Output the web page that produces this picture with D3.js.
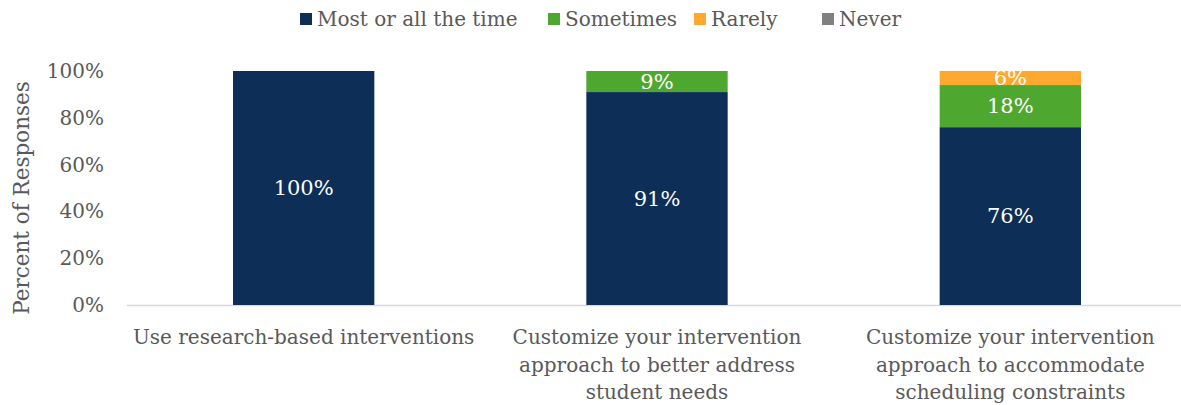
<!DOCTYPE html>
<html><head><meta charset="utf-8">
<script src="https://cdn.jsdelivr.net/npm/d3@7"></script>
<style>body{margin:0;background:#fff}svg{display:block}</style>
</head><body>
<svg id="c" width="1181" height="405"></svg>
<script>
const categories = [
  ["Use research-based interventions"],
  ["Customize your intervention", "approach to better address", "student needs"],
  ["Customize your intervention", "approach to accommodate", "scheduling constraints"]
];
const seriesNames = ["Most or all the time", "Sometimes", "Rarely", "Never"];
const seriesColors = ["#0d2e57", "#4ea72e", "#ffa82f", "#808080"];
const mostValues = [100, 91, 76];
const sometimesValues = [0, 9, 18];
const rarelyValues = [0, 0, 6];
const neverValues = [0, 0, 0];
const yTicks = [0, 20, 40, 60, 80, 100];

const font = "'DejaVu Serif', serif";
const textColor = "#595959";
const svg = d3.select("#c");
const m = {l: 127, r: 0, t: 71, b: 100};
const W = 1181, H = 405;
const x = d3.scaleBand().domain(d3.range(categories.length)).range([m.l, m.l + 1060]).paddingInner(0.6).paddingOuter(0.3);
const y = d3.scaleLinear().domain([0, 100]).range([305, 71]);

const data = categories.map((c, i) => ({i, v: [mostValues[i], sometimesValues[i], rarelyValues[i], neverValues[i]]}));
const stack = d3.stack().keys([0,1,2,3]).value((d, k) => d.v[k]);
const layers = stack(data);

// axis line
svg.append("line").attr("x1", m.l).attr("x2", W).attr("y1", y(0)+0.5).attr("y2", y(0)+0.5)
  .attr("stroke", "#d9d9d9").attr("stroke-width", 1.5);

layers.forEach((layer, k) => {
  const g = svg.append("g");
  g.selectAll("rect").data(layer).join("rect")
    .attr("x", d => x(d.data.i)).attr("width", x.bandwidth())
    .attr("y", d => y(d[1])).attr("height", d => y(d[0]) - y(d[1]))
    .attr("fill", seriesColors[k]);
  g.selectAll("text").data(layer.filter(d => d[1] - d[0] > 0)).join("text")
    .attr("x", d => x(d.data.i) + x.bandwidth()/2)
    .attr("y", d => (y(d[0]) + y(d[1]))/2)
    .attr("dy", "0.35em").attr("text-anchor", "middle")
    .attr("fill", "#fff").attr("font-family", font).attr("font-size", 21)
    .text(d => (d[1]-d[0]) + "%");
});

// y axis labels
const ya = d3.axisLeft(y).tickValues(yTicks).tickFormat(d => d + "%").tickSize(0).tickPadding(0);
const yg = svg.append("g").attr("transform", `translate(104,0)`).call(ya);
yg.select(".domain").remove();
yg.selectAll("text").attr("font-family", font).attr("font-size", 20).attr("fill", textColor);

// y title
svg.append("text").attr("transform", `translate(29,198) rotate(-90)`).attr("text-anchor", "middle")
  .attr("font-family", font).attr("font-size", 21.5).attr("fill", textColor).text("Percent of Responses");

// x labels
categories.forEach((lines, i) => {
  const t = svg.append("text").attr("text-anchor", "middle").attr("font-family", font)
    .attr("font-size", 20).attr("fill", textColor);
  lines.forEach((ln, j) => t.append("tspan").attr("x", x(i) + x.bandwidth()/2).attr("y", 344 + j*27.5).text(ln));
});

// legend
const legX = [300, 548, 694, 822];
seriesNames.forEach((n, k) => {
  const g = svg.append("g").attr("transform", `translate(${legX[k]},0)`);
  g.append("rect").attr("x", 0).attr("y", 13).attr("width", 12).attr("height", 12).attr("fill", seriesColors[k]);
  g.append("text").attr("x", 17).attr("y", 26).attr("font-family", font).attr("font-size", 20)
    .attr("fill", textColor).text(n);
});
</script>
</body></html>
